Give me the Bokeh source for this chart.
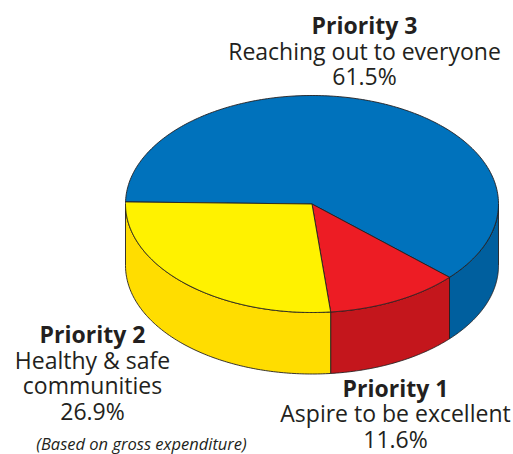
import numpy as np
from bokeh.plotting import figure
from bokeh.models import Range1d
from bokeh.core.properties import value
from bokeh.embed import file_html
from bokeh.resources import INLINE

categories = ["Priority 3", "Priority 1", "Priority 2"]
shares = [61.5, 11.6, 26.9]
top_colors = ["#0072BC", "#ED1C24", "#FFF200"]
side_colors = ["#005F9E", "#C4161C", "#FFDD00"]
label_lines = [
    [("Priority 3", True), ("Reaching out to everyone", False), ("61.5%", False)],
    [("Priority 2", True), ("Healthy & safe", False), ("communities", False), ("26.9%", False)],
    [("Priority 1", True), ("Aspire to be excellent", False), ("11.6%", False)],
]
label_anchor = [(364, 24.5), (92, 333.5), (395, 387)]
note = "(Based on gross expenditure)"

W, H = 513, 454
p = figure(width=W, height=H, x_range=Range1d(0, W), y_range=Range1d(H, 0),
           toolbar_location=None, output_backend="svg", min_border=0, outline_line_color=None)
p.axis.visible = False
p.grid.visible = False
p.background_fill_color = None
p.border_fill_color = None

cx, cy, rx, ry, depth = 311.5, 203.5, 186.5, 108.5, 61.5
start_angle = np.radians(178.9)

def ell(a):
    return cx + rx * np.cos(a), cy - ry * np.sin(a)

edges = [start_angle]
for s in shares:
    edges.append(edges[-1] - s / 100 * 2 * np.pi)

# sides: only the front half of the rim is visible (angles between -pi and 0)
for i in range(len(shares)):
    hi = min(edges[i], 0.0)
    lo = max(edges[i + 1], -np.pi)
    if hi > lo:
        t = np.linspace(hi, lo, 120)
        x, y = ell(t)
        p.patch(np.r_[x, x[::-1]], np.r_[y, (y + depth)[::-1]], fill_color=side_colors[i],
                line_color="#231F20", line_width=0.9, line_join="round")

# tops
for i in range(len(shares)):
    t = np.linspace(edges[i], edges[i + 1], 240)
    x, y = ell(t)
    p.patch(np.r_[cx, x], np.r_[cy, y], fill_color=top_colors[i],
            line_color="#231F20", line_width=0.9, line_join="round")

FONT = value("Open Sans")
LH = 25.5
for lines, (ax, ay) in zip(label_lines, label_anchor):
    for j, (txt, bold) in enumerate(lines):
        p.text([ax], [ay + j * LH], text=[txt], text_align="center", text_baseline="middle",
               text_font_size="23px", text_color="#231F20",
               text_font=FONT, text_font_style="bold" if bold else "normal")

p.text([141], [443], text=[note], text_align="center", text_baseline="middle", text_font_size="16.5px",
       text_color="#231F20", text_font=FONT, text_font_style="italic")

open("out.html", "w").write(file_html(p, INLINE))
